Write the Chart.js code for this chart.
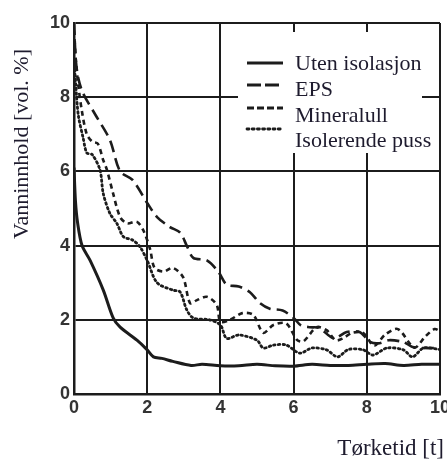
<!DOCTYPE html>
<html>
<head>
<meta charset="utf-8">
<script src="https://cdn.jsdelivr.net/npm/chart.js@4/dist/chart.umd.min.js"></script>
<style>
  html, body { margin: 0; padding: 0; background: #fff; }
  #wrap { width: 447px; height: 460px; }
</style>
</head>
<body>
<div id="wrap"><canvas id="dryChart" width="447" height="460"></canvas></div>
<script>
// -----------------------
// Data
// -----------------------
const xTicks = [0, 2, 4, 6, 8, 10];
const yTicks = [0, 2, 4, 6, 8, 10];

const labels = ["Uten isolasjon", "EPS", "Mineralull", "Isolerende puss"];

const utenX = [0, 0.04, 0.1, 0.22, 0.44, 0.8, 1.07, 1.26, 1.72, 2.0, 2.17, 2.4, 2.7, 3.2, 3.5, 4.0, 4.5, 5.0, 5.5, 6.0, 6.5, 7.0, 7.5, 8.0, 8.5, 9.0, 9.5, 10];
const utenY = [6.1, 5.2, 4.6, 4.0, 3.6, 2.8, 2.05, 1.8, 1.45, 1.19, 1.0, 0.96, 0.88, 0.77, 0.8, 0.76, 0.76, 0.8, 0.76, 0.75, 0.8, 0.77, 0.77, 0.8, 0.82, 0.77, 0.8, 0.8];

const epsX = [0, 0.05, 0.12, 0.25, 0.6, 0.98, 1.26, 1.6, 2.0, 2.27, 2.62, 2.9, 3.08, 3.26, 3.63, 3.94, 4.17, 4.5, 4.8, 5.08, 5.35, 5.7, 6.0, 6.2, 6.45, 6.7, 7.1, 7.45, 7.8, 8.1, 8.35, 8.6, 9.0, 9.25, 9.55, 10];
const epsY = [10, 9.0, 8.5, 8.1, 7.5, 6.85, 6.0, 5.77, 5.15, 4.77, 4.5, 4.35, 4.0, 3.67, 3.6, 3.3, 2.95, 2.9, 2.75, 2.45, 2.3, 2.25, 2.05, 1.85, 1.8, 1.78, 1.5, 1.67, 1.67, 1.4, 1.37, 1.45, 1.4, 1.27, 1.24, 1.24];

const mineralX = [0, 0.05, 0.12, 0.22, 0.35, 0.5, 0.65, 0.8, 0.9, 1.07, 1.26, 1.45, 1.72, 1.9, 2.08, 2.2, 2.45, 2.7, 2.98, 3.17, 3.36, 3.63, 3.9, 4.0, 4.26, 4.6, 4.9, 5.17, 5.45, 5.8, 6.1, 6.27, 6.63, 6.9, 7.15, 7.35, 7.6, 7.9, 8.2, 8.5, 8.85, 9.3, 9.6, 9.85, 10];
const mineralY = [9.8, 9.0, 8.3, 7.6, 7.0, 6.8, 6.75, 6.3, 6.04, 5.4, 4.77, 4.6, 4.64, 4.4, 3.9, 3.4, 3.3, 3.4, 3.15, 2.45, 2.53, 2.62, 2.4, 1.95, 2.0, 2.18, 2.13, 1.65, 1.86, 1.9, 1.45, 1.42, 1.8, 1.72, 1.45, 1.5, 1.65, 1.65, 1.3, 1.6, 1.75, 1.25, 1.55, 1.75, 1.7];

const pussX = [0, 0.05, 0.12, 0.25, 0.35, 0.5, 0.71, 0.8, 0.98, 1.17, 1.35, 1.6, 1.8, 2.0, 2.27, 2.7, 2.9, 3.08, 3.26, 3.7, 4.0, 4.17, 4.5, 5.0, 5.17, 5.45, 5.8, 6.17, 6.5, 6.9, 7.2, 7.5, 7.9, 8.17, 8.55, 9.0, 9.25, 9.55, 10];
const pussY = [9.0, 8.3, 7.5, 6.9, 6.5, 6.45, 6.04, 5.4, 4.87, 4.6, 4.24, 4.15, 3.97, 3.6, 3.0, 2.8, 2.75, 2.27, 2.05, 2.0, 1.86, 1.5, 1.59, 1.45, 1.24, 1.32, 1.32, 1.1, 1.24, 1.19, 1.0, 1.2, 1.19, 1.05, 1.24, 1.19, 1.0, 1.24, 1.2];

// -----------------------
// Helpers
// -----------------------
function toPoints(xs, ys) {
  return xs.map((x, i) => ({ x: x, y: ys[i] }));
}

const ink = "#1c1c1c";
const dashStyles = [[], [12, 6], [5, 4], [1.5, 3.2]];
const widths = [3, 2.6, 2.6, 2.8];

function makeSet(i, xs, ys) {
  return {
    label: labels[i],
    data: toPoints(xs, ys),
    borderColor: ink,
    borderWidth: widths[i],
    borderDash: dashStyles[i],
    borderCapStyle: i === 3 ? "round" : "butt",
    pointRadius: 0,
    tension: 0.3,
    fill: false
  };
}

// legend box + axis titles drawn by hand (legend sits inside the plot)
const overlay = {
  id: "overlay",
  beforeDatasetsDraw(chart) {
    const ctx = chart.ctx;
    ctx.save();
    ctx.fillStyle = "#fff";
    ctx.fillRect(238, 32, 184, 121);
    ctx.restore();
  },
  afterDraw(chart) {
    const ctx = chart.ctx;
    ctx.save();
    const sampleY = [63, 85, 108, 129];
    const textY = [70, 96, 122, 147];
    labels.forEach((lab, i) => {
      ctx.strokeStyle = ink;
      ctx.lineWidth = i === 0 ? 3.2 : 2.8;
      ctx.setLineDash(i === 1 ? [14, 4] : i === 2 ? [7, 3] : i === 3 ? [2, 3.2] : []);
      ctx.lineCap = i === 3 ? "round" : "butt";
      ctx.beginPath();
      ctx.moveTo(247, sampleY[i]);
      ctx.lineTo(283, sampleY[i]);
      ctx.stroke();
      ctx.setLineDash([]);
      ctx.fillStyle = "#1e1b2e";
      ctx.font = "22px 'Liberation Serif'";
      ctx.textAlign = "left";
      ctx.textBaseline = "alphabetic";
      ctx.fillText(lab, 295, textY[i]);
    });

    // axis titles
    ctx.fillStyle = "#1e1b2e";
    ctx.font = "23px 'Liberation Serif'";
    ctx.textAlign = "right";
    ctx.fillText("Tørketid [t]", 444, 455);

    ctx.font = "22px 'Liberation Serif'";
    ctx.translate(22, 144);
    ctx.rotate(-Math.PI / 2);
    ctx.textAlign = "center";
    ctx.textBaseline = "middle";
    ctx.fillText("Vanninnhold [vol. %]", 0, 0);
    ctx.restore();
  }
};

function fixBox(w, h) {
  return function(scale) {
    if (w !== null) scale.width = w;
    if (h !== null) scale.height = h;
    scale.paddingLeft = 0;
    scale.paddingRight = 0;
    scale.paddingTop = 0;
    scale.paddingBottom = 0;
  };
}

const tickFont = { family: "'Liberation Sans', Arial, sans-serif", size: 18, weight: "bold" };

new Chart(document.getElementById("dryChart"), {
  type: "line",
  data: {
    datasets: [
      makeSet(0, utenX, utenY),
      makeSet(1, epsX, epsY),
      makeSet(2, mineralX, mineralY),
      makeSet(3, pussX, pussY)
    ]
  },
  options: {
    responsive: false,
    animation: false,
    layout: { padding: { left: 0, right: 7, top: 23, bottom: 0 } },
    plugins: {
      legend: { display: false },
      tooltip: { enabled: false }
    },
    scales: {
      x: {
        type: "linear",
        min: 0,
        max: 10,
        afterBuildTicks: (s) => { s.ticks = xTicks.map(v => ({ value: v })); },
        afterFit: fixBox(null, 66),
        grid: { color: ink, lineWidth: 2, drawTicks: false },
        border: { color: ink, width: 2.5 },
        ticks: { padding: 3, color: "#333", font: tickFont }
      },
      y: {
        type: "linear",
        min: 0,
        max: 10,
        afterBuildTicks: (s) => { s.ticks = yTicks.map(v => ({ value: v })); },
        afterFit: fixBox(74, null),
        grid: { color: ink, lineWidth: 2, drawTicks: false },
        border: { color: ink, width: 2.5 },
        ticks: { padding: 4, color: "#333", font: tickFont }
      }
    }
  },
  plugins: [overlay]
});
</script>
</body>
</html>
